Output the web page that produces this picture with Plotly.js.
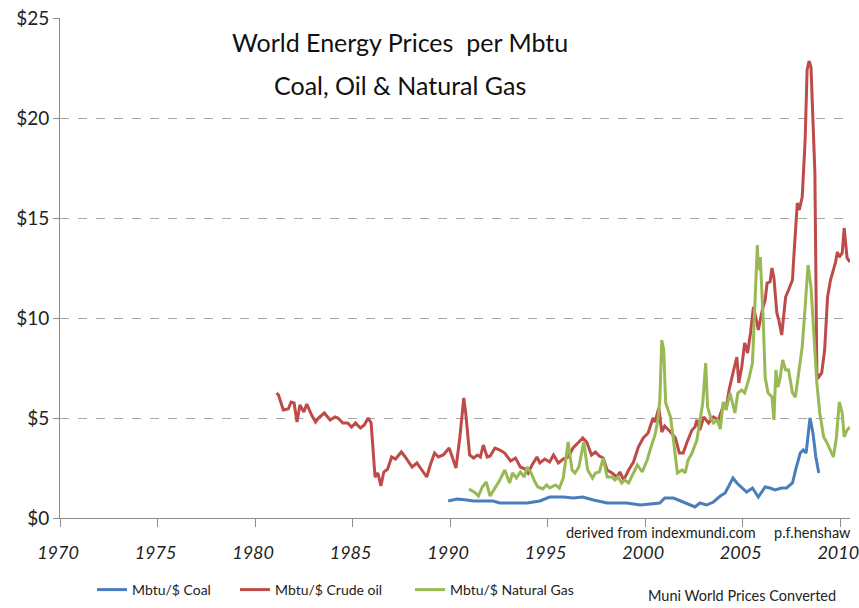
<!DOCTYPE html>
<html>
<head>
<meta charset="utf-8">
<script src="https://cdn.plot.ly/plotly-3.0.1.min.js"></script>
<style>
  html, body { margin: 0; padding: 0; background: #fff; }
  #chart { width: 859px; height: 608px; }
</style>
</head>
<body>
<div id="chart"></div>
<script>
// values, $ per Mbtu
let coalYears = [1989.9, 1990.35, 1990.85, 1991.2, 1992.2, 1992.55, 1993.95, 1994.6, 1995.1, 1995.8, 1996.3, 1996.8, 1997.35, 1998.05, 1998.35, 1999.05, 1999.75, 2000.25, 2000.75, 2001.0, 2001.45, 2001.95, 2002.55, 2002.8, 2003.15, 2003.5, 2003.85, 2004.1, 2004.25, 2004.5, 2004.7, 2004.95, 2005.2, 2005.5, 2005.8, 2006.15, 2006.4, 2006.65, 2007.0, 2007.25, 2007.55, 2007.75, 2007.95, 2008.1, 2008.25, 2008.45, 2008.6, 2008.75, 2008.9];
let coalPrice = [0.85, 0.95, 0.9, 0.85, 0.85, 0.75, 0.75, 0.85, 1.05, 1.05, 1.0, 1.05, 0.9, 0.75, 0.75, 0.75, 0.65, 0.7, 0.75, 1.0, 1.0, 0.8, 0.55, 0.75, 0.65, 0.8, 1.1, 1.25, 1.55, 2.0, 1.75, 1.5, 1.3, 1.5, 1.05, 1.55, 1.5, 1.4, 1.5, 1.5, 1.75, 2.55, 3.25, 3.4, 3.25, 5.0, 4.25, 3.05, 2.25];

let oilYears = [1981.1, 1981.2, 1981.45, 1981.7, 1981.85, 1982.0, 1982.15, 1982.3, 1982.5, 1982.65, 1982.9, 1983.1, 1983.25, 1983.55, 1983.85, 1984.1, 1984.25, 1984.5, 1984.75, 1984.95, 1985.15, 1985.4, 1985.6, 1985.8, 1985.95, 1986.15, 1986.3, 1986.45, 1986.6, 1986.8, 1987.0, 1987.2, 1987.5, 1987.7, 1988.05, 1988.3, 1988.55, 1988.8, 1989.0, 1989.2, 1989.4, 1989.65, 1989.95, 1990.3,
  1990.5, 1990.7, 1990.8, 1991.0, 1991.2, 1991.4, 1991.55, 1991.7, 1991.9, 1992.05, 1992.3, 1992.55, 1992.8, 1993.1, 1993.35, 1993.6, 1993.85, 1994.0, 1994.2, 1994.45, 1994.6, 1994.85, 1995.1, 1995.3, 1995.55, 1995.8, 1996.05, 1996.3, 1996.55, 1996.8, 1997.0, 1997.25, 1997.45, 1997.65, 1997.85, 1998.05, 1998.3, 1998.55, 1998.7, 1998.9, 1999.15, 1999.4, 1999.65, 1999.9,
  2000.15, 2000.4, 2000.5, 2000.7, 2000.85, 2001.0, 2001.3, 2001.55, 2001.75, 2001.95, 2002.15, 2002.4, 2002.55, 2002.65, 2002.8, 2003.0, 2003.25, 2003.5, 2003.75, 2004.0, 2004.15, 2004.3, 2004.5, 2004.7, 2004.8, 2004.95, 2005.1, 2005.25, 2005.4, 2005.55, 2005.7, 2005.8, 2006.0, 2006.15, 2006.25, 2006.4, 2006.5, 2006.6, 2006.75, 2006.85, 2007.0, 2007.2, 2007.35, 2007.55, 2007.6, 2007.8, 2007.9, 2008.05, 2008.2, 2008.3, 2008.4, 2008.5, 2008.7, 2008.8, 2008.9, 2009.05, 2009.2, 2009.35, 2009.5, 2009.6, 2009.75, 2009.85, 2009.95, 2010.1, 2010.2, 2010.35, 2010.5];
let oilPrice = [6.25, 6.15, 5.4, 5.45, 5.8, 5.75, 4.8, 5.65, 5.3, 5.7, 5.15, 4.8, 5.0, 5.25, 4.9, 5.05, 5.0, 4.75, 4.75, 4.55, 4.75, 4.5, 4.65, 5.0, 4.75, 2.05, 2.25, 1.6, 2.3, 2.45, 3.05, 2.95, 3.3, 3.05, 2.55, 2.75, 2.4, 2.05, 2.7, 3.25, 3.05, 3.15, 3.5, 2.5,
  4.05, 6.0, 5.25, 3.15, 3.0, 3.15, 3.05, 3.65, 3.05, 3.1, 3.5, 3.4, 3.25, 2.85, 3.0, 2.55, 2.45, 2.25, 2.65, 3.05, 2.75, 2.95, 2.8, 3.15, 2.75, 2.95, 3.05, 3.5, 3.75, 4.0, 3.8, 3.15, 3.3, 3.1, 3.0, 2.4, 2.25, 2.05, 2.3, 1.9, 2.4, 2.8, 3.55, 4.0,
  4.25, 5.0, 4.8, 5.5, 4.3, 4.6, 4.3, 4.0, 3.25, 3.25, 3.8, 4.4, 4.55, 4.9, 4.4, 5.05, 4.75, 5.05, 4.9, 5.6, 5.5, 6.4, 7.25, 8.05, 6.75, 7.55, 8.75, 8.25, 9.25, 10.55, 9.9, 9.4, 10.4, 10.9, 11.75, 11.8, 12.5, 12.0, 10.25, 9.9, 9.15, 11.05, 11.4, 11.9, 12.75, 15.75, 15.4, 16.05, 18.9, 22.4, 22.85, 22.55, 17.25, 7.25, 7.05, 7.25, 8.4, 11.05, 11.9, 12.25, 12.75, 13.3, 13.05, 13.25, 14.5, 13.0, 12.8];

let gasYears = [1990.97, 1991.3, 1991.45, 1991.65, 1991.85, 1992.05, 1992.3, 1992.55, 1992.8, 1993.05, 1993.2, 1993.4, 1993.6, 1993.8, 1993.95, 1994.15, 1994.35, 1994.5, 1994.75, 1994.95, 1995.1, 1995.4, 1995.6, 1995.8, 1996.05, 1996.25, 1996.4, 1996.6, 1996.85, 1997.05, 1997.3, 1997.45, 1997.65, 1997.85, 1998.05, 1998.3, 1998.45, 1998.6, 1998.8, 1998.95, 1999.15, 1999.4, 1999.6, 1999.85,
  2000.1, 2000.3, 2000.5, 2000.65, 2000.75, 2000.85, 2000.95, 2001.05, 2001.3, 2001.45, 2001.65, 2001.9, 2002.05, 2002.2, 2002.4, 2002.65, 2002.8, 2002.95, 2003.1, 2003.2, 2003.35, 2003.5, 2003.7, 2003.85, 2004.0, 2004.15, 2004.35, 2004.6, 2004.75, 2004.95, 2005.1, 2005.3, 2005.5, 2005.6, 2005.75, 2005.8, 2005.9, 2006.05, 2006.15, 2006.3, 2006.5, 2006.6, 2006.7, 2006.8, 2006.9, 2007.05, 2007.2, 2007.35, 2007.55, 2007.7, 2007.85, 2008.05, 2008.2, 2008.35, 2008.5, 2008.65, 2008.8, 2008.95, 2009.15, 2009.3, 2009.5, 2009.65, 2009.8, 2009.95, 2010.1, 2010.2, 2010.35, 2010.5];
let gasPrice = [1.45, 1.25, 1.1, 1.55, 1.8, 1.1, 1.5, 1.9, 2.4, 1.75, 2.25, 2.0, 2.3, 2.05, 2.55, 2.25, 1.8, 1.55, 1.45, 1.65, 1.5, 1.65, 1.5, 2.0, 3.8, 2.4, 2.25, 2.55, 3.8, 2.4, 2.0, 2.25, 2.3, 3.0, 2.05, 2.05, 1.9, 2.05, 1.75, 1.9, 1.75, 2.3, 2.65, 2.3,
  2.9, 3.55, 4.15, 4.9, 5.9, 8.9, 8.4, 5.75, 5.05, 3.9, 2.25, 2.4, 2.25, 2.9, 3.25, 3.9, 4.75, 5.75, 7.75, 5.55, 5.05, 4.75, 4.9, 4.45, 5.8, 5.4, 6.25, 5.25, 6.25, 6.4, 6.25, 6.9, 7.75, 9.9, 13.65, 12.4, 13.05, 9.9, 7.05, 6.25, 6.05, 4.9, 7.4, 6.55, 6.9, 7.9, 7.4, 7.4, 6.25, 6.05, 7.05, 8.55, 10.55, 12.65, 11.55, 9.05, 6.75, 5.25, 4.05, 3.8, 3.4, 3.05, 4.0, 5.8, 5.25, 4.05, 4.4, 4.55];

let seriesNames = ['Mbtu/$ Coal', 'Mbtu/$ Crude oil', 'Mbtu/$ Natural Gas'];
let seriesColors = ['#4A7EBB', '#BE4B48', '#98B954'];

let fontName = 'Lato, "Open Sans", sans-serif';

let coal = {
    x: coalYears, y: coalPrice, name: seriesNames[0],
    mode: 'lines', line: {color: seriesColors[0], width: 3},
    legendwidth: 98
};
let oil = {
    x: oilYears, y: oilPrice, name: seriesNames[1],
    mode: 'lines', line: {color: seriesColors[1], width: 3},
    legendwidth: 130
};
let gas = {
    x: gasYears, y: gasPrice, name: seriesNames[2],
    mode: 'lines', line: {color: seriesColors[2], width: 3}
};

let layout = {
    width: 859,
    height: 608,
    margin: {l: 60, r: 9, t: 18, b: 90, pad: 0, autoexpand: false},
    paper_bgcolor: '#fff',
    plot_bgcolor: '#fff',
    font: {family: fontName, color: '#222'},
    showlegend: true,
    legend: {
        orientation: 'h',
        x: 0.0405, xanchor: 'left',
        y: -0.144, yanchor: 'middle',
        font: {size: 14, color: '#222'},
        itemwidth: 30,
        tracegroupgap: 0
    },
    xaxis: {
        range: [1970, 2010.5],
        tick0: 1970, dtick: 5,
        showgrid: false,
        zeroline: false,
        showline: true, linecolor: '#8c8c8c', linewidth: 1,
        ticks: 'outside', ticklen: 8, tickcolor: '#8c8c8c',
        ticklabelstandoff: 10,
        ticklabelshift: -2,
        ticklabeloverflow: 'allow',
        tickfont: {size: 18, style: 'italic', color: '#222'}
    },
    yaxis: {
        range: [0, 25],
        tick0: 0, dtick: 5,
        tickprefix: '$',
        showgrid: true, gridcolor: '#a6a6a6', griddash: 'dash', gridwidth: 1,
        zeroline: false,
        showline: true, linecolor: '#8c8c8c', linewidth: 1,
        ticks: 'outside', ticklen: 6, tickcolor: '#8c8c8c',
        tickfont: {size: 19, color: '#222'}
    },
    annotations: [
        {text: 'World Energy Prices  per Mbtu', xref: 'paper', yref: 'paper',
         x: 0.43, y: 0.952, xanchor: 'center', yanchor: 'middle', showarrow: false,
         font: {size: 25, color: '#111'}},
        {text: 'Coal, Oil &amp; Natural Gas', xref: 'paper', yref: 'paper',
         x: 0.43, y: 0.866, xanchor: 'center', yanchor: 'middle', showarrow: false,
         font: {size: 25, color: '#111'}},
        {text: 'derived from indexmundi.com', xref: 'paper', yref: 'paper',
         x: 0.761, y: -0.028, xanchor: 'center', yanchor: 'middle', showarrow: false,
         font: {size: 14.5, color: '#222'}},
        {text: 'p.f.henshaw', xref: 'paper', yref: 'paper',
         x: 0.9525, y: -0.028, xanchor: 'center', yanchor: 'middle', showarrow: false,
         font: {size: 14.5, color: '#222'}},
        {text: 'Muni World Prices Converted', xref: 'paper', yref: 'paper',
         x: 0.8627, y: -0.154, xanchor: 'center', yanchor: 'middle', showarrow: false,
         font: {size: 14.5, color: '#222'}}
    ]
};

Plotly.newPlot('chart', [coal, oil, gas], layout, {displayModeBar: false, staticPlot: true});
</script>
</body>
</html>
